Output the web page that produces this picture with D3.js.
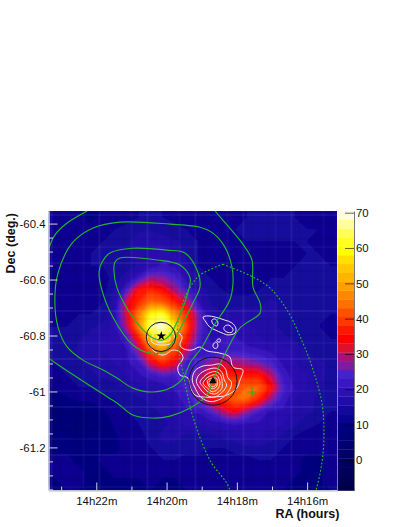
<!DOCTYPE html>
<html><head><meta charset="utf-8">
<script src="https://cdn.jsdelivr.net/npm/d3@7"></script>
<style>html,body{margin:0;padding:0;background:#fff}svg{display:block}text{font-family:"Liberation Sans",Arial,sans-serif;fill:#111}</style>
</head><body><div id="c"></div>
<script>
const raMajor=[22,20,18,16], raMinor=[23,21,19,17];
const decMajor=[-60.4,-60.6,-60.8,-61,-61.2];
const decMinor=[-60.45,-60.5,-60.55,-60.65,-60.7,-60.75,-60.85,-60.9,-60.95,-61.05,-61.1,-61.15,-61.25,-61.3,-61.35];
const barTicks=[70,60,50,40,30,20,10,0];
const bandEdges=[-9.5,-7,-4.5,-2,0.5,3,5.5,8,10.5,13,15.5,18,20.5,23,25.5,28,30.5,33,35.5,38,40.5,43,45.5,48,50.5,53,55.5,58,60.5,63,65.5,68];
const bandColors=["#000048","#000050","#00005a","#000060","#000068","#000070","#000078","#00007f","#080490","#14089c","#200ca8","#2c10b0","#3a18c0","#4422cc","#801aa0","#aa1078","#dd1030","#ff0000","#ff1800","#ff3800","#ff5000","#ff7000","#ff8800","#ffa000","#ffb400","#ffc800","#ffe000","#ffff00","#ffff22","#ffff55","#ffff99","#fffde0"];
const heatRows=[
[11,12,11,10,11,12,12,13,13,13,12,12,13,12,11,12,13,13,14,13,13,12,12,11],
[12,12,11,11,12,13,14,15,15,14,14,13,12,12,12,13,13,14,15,14,13,13,13,12],
[11,11,12,12,13,14,15,17,18,17,16,14,13,12,12,12,13,13,13,13,13,13,12,12],
[11,12,12,13,14,14,15,17,18,20,18,15,13,11,11,11,12,12,12,12,12,13,13,12],
[11,11,12,13,13,13,14,16,19,21,20,16,13,12,11,10,11,12,12,12,13,14,14,13],
[10,11,12,12,12,14,17,22,28,27,24,19,15,13,12,11,11,12,13,13,14,15,15,14],
[11,11,12,12,12,16,24,36,38,35,29,23,18,14,13,12,12,13,14,14,15,15,14,13],
[11,12,12,12,13,17,32,38,44,42,37,30,20,15,14,14,14,15,16,15,15,14,14,13],
[12,12,13,13,14,19,32,46,60,62,48,38,26,17,16,17,17,16,16,15,14,14,13,13],
[13,13,14,15,16,19,30,46,66,70,58,40,26,18,19,20,19,17,16,15,14,13,13,12],
[14,14,15,17,18,18,23,36,54,60,48,36,24,20,21,21,18,18,17,16,15,13,13,13],
[13,15,16,17,18,18,20,28,42,48,40,30,21,21,22,23,22,21,20,19,18,15,14,13],
[13,14,15,16,17,18,20,22,32,38,34,22,24,28,31,29,28,26,24,20,18,17,16,15],
[12,13,14,15,16,16,18,20,22,24,23,23,28,35,37,37,36,36,30,22,19,18,16,15],
[11,12,13,13,14,15,16,17,18,19,21,24,30,42,43,41,43,43,36,24,20,18,16,14],
[9,10,11,11,12,13,14,15,16,17,19,22,26,34,38,43,43,37,28,22,18,17,15,14],
[7,8,8,8,10,12,13,14,15,16,17,20,21,24,30,34,28,23,20,20,17,16,15,13],
[8,6,5,6,8,11,12,13,15,15,16,19,18,19,20,21,20,20,19,18,16,14,13,12],
[9,8,7,8,8,10,12,12,14,16,16,15,15,15,16,17,18,18,17,15,13,12,12,12],
[10,10,9,9,10,10,11,11,13,15,15,14,14,13,13,14,15,15,14,13,12,11,11,12],
[11,11,10,10,11,11,11,11,12,13,13,12,12,12,12,12,12,13,13,12,11,10,10,11],
[11,11,11,10,10,11,11,11,11,11,11,11,11,11,12,13,12,12,12,11,11,10,10,11],
[10,11,11,10,10,10,10,10,11,10,10,11,11,12,12,12,12,11,11,11,10,10,10,11]];
const greenTopLeft=[[22.26,-60.355],[22.83,-60.398],[23.18,-60.441],[23.37,-60.495]];
const greenOuter=[[18.62,-60.355],[18.28,-60.405],[17.85,-60.470],[17.57,-60.530],[17.54,-60.627],[17.34,-60.684],[17.34,-60.720],[17.91,-60.773],[18.28,-60.852],[18.68,-60.959],[18.85,-61.013],[19.33,-61.059],[19.90,-61.088],[20.39,-61.095],[20.96,-61.084],[21.41,-61.041],[21.90,-61.002],[22.95,-60.916],[23.37,-60.880]];
const greenB=[[21.33,-60.395],[22.09,-60.416],[22.69,-60.470],[23.09,-60.577],[23.18,-60.673],[23.09,-60.770],[22.83,-60.841],[22.38,-60.888],[21.81,-60.923],[21.41,-60.952],[20.96,-60.988],[20.39,-61.002],[19.90,-60.988],[19.53,-60.952],[19.33,-60.898],[18.99,-60.841],[18.68,-60.770],[18.20,-60.673],[18.11,-60.613],[18.14,-60.555],[18.34,-60.484],[18.68,-60.434],[19.05,-60.413],[19.90,-60.402]];
const greenC=[[20.96,-60.488],[21.61,-60.505],[21.84,-60.538],[21.92,-60.573],[21.84,-60.638],[21.53,-60.734],[20.96,-60.834],[20.47,-60.863],[20.10,-60.859],[19.82,-60.823],[19.53,-60.755],[19.25,-60.684],[19.05,-60.627],[19.11,-60.573],[19.48,-60.505],[19.99,-60.495]];
const greenD=[[21.47,-60.538],[21.33,-60.523],[20.27,-60.530],[19.62,-60.548],[19.33,-60.595],[19.39,-60.645],[19.62,-60.727],[19.90,-60.798],[20.10,-60.816],[20.39,-60.809],[20.67,-60.780],[21.13,-60.702],[21.41,-60.630],[21.50,-60.566]];
const ellipseDotted=[[18.40,-60.545],[17.54,-60.591],[17.06,-60.630],[16.57,-60.709],[16.12,-60.827],[15.83,-60.923],[15.58,-61.041],[15.52,-61.148],[15.58,-61.255],[15.75,-61.355],[16.00,-61.45],[18.40,-61.45],[18.20,-61.355],[18.77,-61.245],[19.25,-61.091],[19.53,-60.934],[19.68,-60.834],[19.68,-60.763],[19.56,-60.691],[19.33,-60.627],[19.05,-60.584],[18.40,-60.545]];
const whiteOuter=[[20.56,-60.809],[20.53,-60.780],[20.33,-60.763],[19.99,-60.755],[19.76,-60.780],[19.56,-60.805],[19.62,-60.834],[19.51,-60.848],[19.28,-60.852],[19.05,-60.841],[18.85,-60.855],[18.48,-60.863],[18.20,-60.877],[18.11,-60.913],[17.83,-60.923],[17.91,-60.959],[18.00,-60.988],[18.28,-61.013],[18.68,-61.020],[18.96,-61.020],[19.19,-61.013],[19.33,-60.984],[19.39,-60.952],[19.62,-60.941],[19.68,-60.913],[19.53,-60.880],[19.62,-60.859],[19.82,-60.852],[20.10,-60.870],[20.39,-60.852]];
const whiteA1=[[20.42,-60.805],[20.24,-60.780],[19.96,-60.780],[19.76,-60.805],[19.85,-60.827],[20.19,-60.834],[20.42,-60.823]];
const whiteA2=[[20.27,-60.809],[20.13,-60.795],[19.96,-60.798],[19.90,-60.816],[20.10,-60.823],[20.27,-60.823]];
const white2a=[[19.19,-60.926],[18.96,-60.909],[18.72,-60.906],[18.48,-60.902],[18.32,-60.921],[18.26,-60.950],[18.15,-60.969],[18.24,-61.001],[18.48,-61.028],[18.77,-61.036],[19.02,-61.021],[19.17,-60.992],[19.27,-60.959]];
const white2b=[[19.08,-60.941],[18.86,-60.923],[18.58,-60.917],[18.42,-60.933],[18.36,-60.959],[18.29,-60.977],[18.43,-61.004],[18.67,-61.021],[18.91,-61.009],[19.05,-60.989],[19.15,-60.965]];
const white2c=[[18.98,-60.953],[18.81,-60.935],[18.58,-60.929],[18.45,-60.945],[18.42,-60.965],[18.43,-60.989],[18.62,-61.009],[18.83,-61.001],[18.96,-60.983],[19.05,-60.967]];
const white2d=[[18.91,-60.959],[18.77,-60.945],[18.58,-60.941],[18.50,-60.957],[18.48,-60.973],[18.55,-60.992],[18.70,-61.001],[18.83,-60.989],[18.96,-60.971]];
const white2e=[[18.84,-60.961],[18.72,-60.953],[18.58,-60.953],[18.55,-60.969],[18.58,-60.983],[18.70,-60.990],[18.79,-60.981]];
const white2f=[[18.78,-60.963],[18.67,-60.959],[18.60,-60.965],[18.60,-60.977],[18.69,-60.983],[18.77,-60.976]];
const whiteN=[[18.96,-60.734],[18.82,-60.730],[18.62,-60.734],[18.34,-60.745],[18.14,-60.755],[18.03,-60.773],[18.05,-60.791],[18.25,-60.798],[18.42,-60.791],[18.62,-60.780],[18.77,-60.770],[18.88,-60.752]];
const whiteN1=[[18.71,-60.745],[18.62,-60.741],[18.54,-60.752],[18.57,-60.766],[18.68,-60.759]];
const whiteN2=[[18.34,-60.766],[18.23,-60.763],[18.11,-60.777],[18.14,-60.788],[18.28,-60.788],[18.37,-60.777]];
const whiteS1=[[18.68,-60.834],[18.59,-60.823],[18.54,-60.834],[18.57,-60.845],[18.65,-60.845]];
const whiteS2=[[18.57,-60.816],[18.48,-60.812],[18.48,-60.823],[18.54,-60.823]];
const starPos=[20.15,-60.802], trianglePos=[18.68,-60.963], plusPos=[17.57,-61.002];
const circleA=[20.16,-60.805,0.0525], circleB=[18.68,-60.963,0.086];

const W=407,H=527,L=48.5,R=337,T=211,B=490.5,BR=354;
const x=d3.scaleLinear().domain([23.36,15.15]).range([L,R]);
const y=d3.scaleLinear().domain([-60.355,-61.354]).range([T,B]);
const z=d3.scaleLinear().domain([70.48,-8.64]).range([T,B]);
const svg=d3.select("#c").append("svg").attr("width",W).attr("height",H);
const defs=svg.append("defs");
defs.append("clipPath").attr("id","plot").append("rect").attr("x",L).attr("y",T).attr("width",R-L).attr("height",B-T);
defs.append("filter").attr("id","soft").attr("x","-5%").attr("y","-5%").attr("width","110%").attr("height","110%")
  .append("feGaussianBlur").attr("stdDeviation",1.8);

// heat map
const nx=heatRows[0].length, ny=heatRows.length;
const flat=heatRows.flat();
const proj=d3.geoTransform({point(px,py){
  const ra=x.domain()[0]+px/nx*(x.domain()[1]-x.domain()[0]);
  const de=y.domain()[0]+py/ny*(y.domain()[1]-y.domain()[0]);
  this.stream.point(x(ra),y(de));}});
const path=d3.geoPath(proj);
const plot=svg.append("g").attr("clip-path","url(#plot)");
plot.append("rect").attr("x",L).attr("y",T).attr("width",R-L).attr("height",B-T).attr("fill","#14089c");
const heat=plot.append("g").attr("filter","url(#soft)");
const polys=d3.contours().size([nx,ny]).smooth(true).thresholds(bandEdges)(flat);
heat.selectAll("path").data(polys).join("path").attr("d",path)
  .attr("fill",d=>bandColors[bandEdges.indexOf(d.value)]);

// plaid texture of the map
const plaid=plot.append("g");
d3.range(0,36).forEach(i=>{
  const o=i%3===0?0.06:(i%3===1?0.035:0), c=i%2?"#000":"#fff";
  plaid.append("rect").attr("x",L+i*8+2).attr("y",T).attr("width",2).attr("height",B-T).attr("fill",c).attr("opacity",o);
  plaid.append("rect").attr("y",T+i*8+3).attr("x",L).attr("height",2).attr("width",R-L).attr("fill",c).attr("opacity",o);
});

// overlays
const lineOpen=d3.line().x(d=>x(d[0])).y(d=>y(d[1])).curve(d3.curveCatmullRom.alpha(0.5));
const lineClosed=d3.line().x(d=>x(d[0])).y(d=>y(d[1])).curve(d3.curveCatmullRomClosed.alpha(0.5));
const white=plot.append("g").attr("fill","none").attr("stroke","#f0e4f6").attr("stroke-width",1);
[whiteOuter,whiteA1,whiteA2,white2a,white2b,white2c,white2d,white2e,white2f,whiteN,whiteN1,whiteN2,whiteS1,whiteS2].forEach(p=>white.append("path").attr("d",lineClosed(p)));
const green=plot.append("g").attr("fill","none").attr("stroke","#22b52e").attr("stroke-width",1.15);
[greenTopLeft,greenOuter].forEach(p=>green.append("path").attr("d",lineOpen(p)));
[greenB,greenC,greenD].forEach(p=>green.append("path").attr("d",lineClosed(p)));
green.append("path").attr("d",lineOpen(ellipseDotted)).attr("stroke","#1fc02c").attr("stroke-dasharray","1.8 1.9").attr("stroke-width",1.1);
const ppx=x(plusPos[0]),ppy=y(plusPos[1]);
green.append("path").attr("d",`M${ppx-4.5},${ppy}H${ppx+4.5}M${ppx},${ppy-4.5}V${ppy+4.5}`);
[circleA,circleB].forEach(c=>plot.append("circle").attr("cx",x(c[0])).attr("cy",y(c[1])).attr("r",Math.abs(y(c[1]+c[2])-y(c[1]))).attr("fill","none").attr("stroke","#151515").attr("stroke-width",1));
plot.append("path").attr("d",d3.symbol(d3.symbolStar,28)()).attr("transform",`translate(${x(starPos[0])},${y(starPos[1])})`).attr("fill","#000");
plot.append("path").attr("d",d3.symbol(d3.symbolTriangle,26)()).attr("transform",`translate(${x(trianglePos[0])},${y(trianglePos[1])})`).attr("fill","#000");

// axes
const axisCol="#cfd0e0";
function styleAxis(g,col){g.selectAll("path.domain").attr("stroke",col);g.selectAll("line").attr("stroke",col);}
const gxMin=svg.append("g").attr("transform",`translate(0,${B})`).call(d3.axisTop(x).tickValues(raMinor).tickSize(4).tickSizeOuter(0).tickFormat(""));
styleAxis(gxMin,axisCol);
const gx=svg.append("g").attr("transform",`translate(0,${B})`).call(d3.axisTop(x).tickValues(raMajor).tickSize(8).tickSizeOuter(0).tickFormat(d=>`14h${d}m`));
styleAxis(gx,axisCol);
gx.selectAll("text").attr("y",14.5).attr("dy",0).style("font-size","11.4px").attr("fill","#111");
const gyMin=svg.append("g").attr("transform",`translate(${L},0)`).call(d3.axisRight(y).tickValues(decMinor).tickSize(4.5).tickSizeOuter(0).tickFormat(""));
styleAxis(gyMin,axisCol);
const gy=svg.append("g").attr("transform",`translate(${L},0)`).call(d3.axisRight(y).tickValues(decMajor).tickSize(9).tickSizeOuter(0).tickFormat(d=>String(d)));
styleAxis(gy,axisCol);
gy.selectAll("text").attr("x",-3).attr("text-anchor","end").style("font-size","11.4px").attr("fill","#111");

// colour bar
const bar=svg.append("g");
bandEdges.forEach((e,i)=>{
  const top=i<bandEdges.length-1?bandEdges[i+1]:z.domain()[0];
  const lo=Math.max(e,z.domain()[1]);
  bar.append("rect").attr("x",R+0.5).attr("width",BR-R-0.5).attr("y",z(top)).attr("height",z(lo)-z(top)+0.3).attr("fill",bandColors[i]);
});
const gz=svg.append("g").attr("transform",`translate(${BR},0)`).call(d3.axisRight(z).tickValues(barTicks).tickSize(-9).tickSizeOuter(0).tickFormat(d=>String(d)));
gz.selectAll("path.domain").attr("stroke","#777");
gz.selectAll("line").attr("stroke","#000").attr("stroke-opacity",0.6);
gz.selectAll("text").attr("x",2).style("font-size","11.4px").attr("fill","#111");

// titles
svg.append("text").attr("x",339.5).attr("y",518).attr("text-anchor","end").style("font-size","12.5px").style("font-weight","bold").text("RA (hours)");
svg.append("text").attr("transform","translate(14.5,213) rotate(-90)").attr("text-anchor","end").style("font-size","12.5px").style("font-weight","bold").text("Dec (deg.)");
</script></body></html>
